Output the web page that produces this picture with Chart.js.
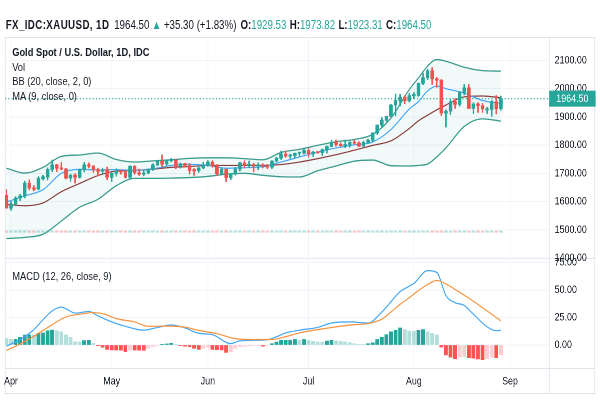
<!DOCTYPE html>
<html><head><meta charset="utf-8">
<script src="https://cdn.jsdelivr.net/npm/chart.js@4.4.1/dist/chart.umd.min.js"></script>
<style>
html,body{margin:0;padding:0;background:#fff;overflow:hidden;width:600px;height:400px}
#wrap{position:absolute;left:0;top:0;width:740px;height:400px;transform:scaleX(0.8108108);transform-origin:0 0;font-family:"Liberation Sans",Arial,sans-serif;color:#131722}
canvas{position:absolute;left:0}
#main{top:29px}
#macd{top:250px}
.ln{position:absolute;background:#e0e3eb}
.txt{position:absolute;white-space:pre;}
#hdr{left:7px;top:18px;font-size:12px;line-height:14px}
#hdr b{font-weight:bold}
#hdr .sym{font-size:12px;letter-spacing:0.5px}
.up{color:#26a69a}
.lg{left:15px;font-size:11.5px;line-height:14px}
</style></head>
<body>
<div id="wrap">
  <div class="ln" style="left:6px;top:37px;width:728px;height:1px"></div>
  <div class="ln" style="left:6px;top:393px;width:728px;height:1px"></div>
  <div class="ln" style="left:6px;top:37px;width:1px;height:357px"></div>
  <div class="ln" style="left:733px;top:37px;width:1px;height:357px"></div>
  <div class="ln" style="left:677px;top:37px;width:1px;height:357px"></div>
  <div class="ln" style="left:6px;top:258px;width:728px;height:1px"></div>
  <div class="ln" style="left:6px;top:368px;width:728px;height:1px"></div>
  <canvas id="main" width="740" height="237"></canvas>
  <canvas id="macd" width="740" height="150"></canvas>
  <div id="hdr" class="txt"><b class="sym">FX_IDC:XAUUSD, 1D</b><span style="margin-left:6px">1964.50</span><span class="up" style="margin-left:3px">▲</span><span style="margin-left:3px">+35.30 (+1.83%)</span><b style="margin-left:5px">O:</b><span class="up">1929.53</span><b style="margin-left:4px">H:</b><span class="up">1973.82</span><b style="margin-left:4px">L:</b><span class="up">1923.31</span><b style="margin-left:4px">C:</b><span class="up">1964.50</span></div>
  <div class="txt lg" style="top:45px;font-weight:bold">Gold Spot / U.S. Dollar, 1D, IDC</div>
  <div class="txt lg" style="top:60px">Vol</div>
  <div class="txt lg" style="top:74px">BB (20, close, 2, 0)</div>
  <div class="txt lg" style="top:89px">MA (9, close, 0)</div>
  <div class="txt lg" style="top:269px">MACD (12, 26, close, 9)</div>
</div>
<script>
// ---- data (daily candles, 2020-03-31 .. 2020-08-28, index = trading day) ----
const opens = [1622,1577,1591,1613,1620,1665,1648,1644,1681,1686,
1714,1730,1718,1715,1683,1694,1686,1713,1730,1726,
1713,1707,1713,1686,1700,1707,1705,1686,1725,1702,
1697,1701,1715,1730,1743,1733,1745,1747,1726,1734,
1728,1710,1709,1719,1730,1740,1726,1699,1714,1684,
1698,1715,1737,1728,1731,1726,1727,1726,1722,1743,
1754,1768,1761,1763,1771,1772,1781,1769,1775,1773,
1784,1795,1809,1803,1798,1802,1809,1807,1796,1810,
1817,1843,1871,1888,1902,1942,1958,1970,1957,1975,
1976,2019,2039,2063,2035,2030,1913,1920,1954,1944,
1986,2003,1930,1946,1940,1924,1926,1954,1929.53];
const highs = [1643,1599,1617,1626,1672,1677,1657,1689,1693,1720,
1747,1732,1738,1718,1697,1698,1715,1739,1737,1727,
1718,1718,1722,1703,1716,1711,1712,1727,1728,1715,
1711,1716,1734,1746,1765,1746,1753,1749,1737,1736,
1735,1717,1727,1739,1745,1745,1731,1719,1716,1699,
1721,1740,1745,1744,1736,1737,1734,1732,1745,1757,
1779,1779,1768,1772,1773,1786,1789,1778,1777,1786,
1797,1818,1818,1809,1818,1812,1818,1812,1814,1821,
1844,1872,1898,1903,1945,1981,1980,1975,1984,1986,
2020,2055,2069,2075,2040,2033,1925,1962,1965,1990,
2015,2015,1950,1950,1948,1934,1958,1976,1973.82];
const lows = [1576,1569,1585,1603,1613,1641,1638,1641,1676,1676,
1706,1706,1712,1680,1671,1665,1683,1705,1719,1703,
1691,1700,1677,1671,1690,1697,1683,1682,1696,1692,
1691,1698,1710,1727,1724,1728,1740,1716,1718,1722,
1697,1693,1703,1716,1725,1721,1693,1695,1670,1677,
1694,1708,1719,1722,1705,1713,1719,1716,1717,1740,
1749,1757,1753,1756,1760,1768,1757,1760,1770,1763,
1772,1794,1796,1795,1791,1793,1803,1795,1795,1806,
1812,1838,1863,1883,1900,1904,1939,1947,1952,1965,
1972,2014,2032,2015,2005,1904,1864,1908,1930,1938,
1978,1929,1912,1916,1916,1912,1902,1911,1923.31];
const closes = [1577,1591,1613,1620,1665,1648,1644,1683,1688,1714,
1730,1718,1715,1683,1694,1686,1713,1730,1726,1713,
1707,1713,1686,1700,1707,1705,1686,1725,1702,1697,
1701,1715,1730,1743,1733,1745,1747,1726,1734,1728,
1710,1709,1719,1730,1740,1726,1699,1714,1684,1698,
1715,1737,1728,1731,1726,1727,1726,1722,1743,1754,
1768,1761,1763,1771,1772,1781,1769,1775,1773,1784,
1795,1809,1803,1798,1802,1809,1807,1796,1810,1817,
1843,1871,1888,1902,1942,1958,1970,1957,1975,1976,
2019,2039,2063,2035,2030,1913,1920,1954,1944,1986,
2003,1930,1946,1940,1928,1926,1954,1929.2,1964.5];

// Bollinger Bands (20,2) and MA(9) at these bar indices
const bbIdx   = [0,4,8,12,16,20,24,28,32,36,40,44,48,52,56,60,64,68,72,76,80,84,88,90,92,94,96,100,104,108];
const bbUpper = [1718,1701,1721,1760,1765,1772,1749,1740,1744,1748,1753,1755,1755,1752,1748,1774,1785,1799,1812,1820,1838,1896,1997,2038,2080,2103,2097,2076,2064,2062];
const bbBasis = [1590,1585,1595,1635,1664,1692,1708,1710,1715,1721,1724,1728,1728,1728,1728,1731,1740,1752,1766,1782,1799,1815,1859,1886,1906,1925,1942,1971,1974,1968];
const bbLower = [1469,1473,1484,1531,1580,1608,1656,1682,1682,1683,1685,1689,1697,1700,1693,1688,1687,1709,1726,1743,1747,1727,1726,1728,1733,1758,1790,1866,1893,1885];
const maVal   = [1598,1620,1642,1700,1714,1712,1713,1710,1716,1728,1732,1728,1718,1720,1723,1740,1758,1775,1790,1801,1811,1855,1928,1954,1992,2009,2000,1984,1958,1948];

// MACD (12,26,9)
const macdIdx = [0,3,6,8,10,12,13,15,18,20,23,26,30,33,36,39,42,45,49,51,57,59,61,64,68,71,75,79,82,86,89,92,94,96,98,100,102,105,107,108];
const macdVal = [-1,5,14,23,31,34.5,33,29,30.5,26.5,21,17,13.5,16,18.2,15.5,10.7,9.4,1.3,3.8,4.8,7.5,11,13.5,16,20,21,20,30,48.5,56,67.6,66,45,38.5,36,28,16.5,13,13.5];
const signalIdx = [0,3,6,10,13,16,19,21,24,28,31,35,39,42,46,50,53,58,61,64,68,72,76,79,82,84,86,88,90,92,94,96,98,101,104,106,108];
const signalVal = [-5,1,8,18.5,25.5,28,29.5,28.5,24,21,17,17.2,16.2,13.3,10.3,5.8,5,5,7.6,11,14,16.5,18.5,19.5,23.5,30,37,43,49.5,55,58.7,55.5,50.5,42.5,34,28,22];
const hist = [6,5,5.2,7,9,9.2,9,10.6,11,13,
13.6,13,12,9,7,3,2.7,4,4.2,1.5,
-0.6,-2,-4,-4.5,-4.6,-4.7,-6,-4.5,-4.6,-4.7,
-4.8,-3,-1.5,-0.6,0.6,1,1.5,0.6,-0.6,-1,
-1.5,-3,-4,-3,-2,-4,-4.2,-4.5,-6.7,-6,
-3,-1.5,-1,-0.8,-0.5,-0.4,-1,-0.6,1.2,2.7,
4.2,4.3,4.4,5,4.2,5,4.2,3.3,2.7,2.6,
3.6,4.2,3.6,3.3,2.7,2.1,1.2,0.6,0.3,1.2,
2,5,7,9.4,12,13.3,15.5,14,12.7,12.4,
13.3,14,12,10.5,9,-1.8,-9,-11,-12.4,-11,
-10.5,-11.5,-12,-12.6,-13.3,-12.4,-11,-11.5,-8.8];

// axis ticks
const monthIdx = [1,23,44,66,89,110];
const monthLabels = ['Apr','May','Jun','Jul','Aug','Sep'];
const priceTicks = [1400,1500,1600,1700,1800,1900,2000,2100];
const macdTicks = [0,25,50,75];
const lastClose = 1964.50;
const volLo = 1491, volHi = 1496;

// ---- drawing ----
const xMin = -0.3, xMax = 118.5;
const UP = '#26a69a', DOWN = '#ef5350';
const FONT = '"Liberation Sans", Arial, sans-serif';
Chart.defaults.font.family = FONT;
Chart.defaults.font.size = 11;
Chart.defaults.color = '#131722';

const idx = closes.map((_, i) => i);
const candleCol = idx.map(i => closes[i] >= opens[i] ? UP : DOWN);
const volCol = idx.map(i => closes[i] >= opens[i] ? 'rgba(38,166,154,0.35)' : 'rgba(239,83,80,0.35)');
const histCol = hist.map((v, i) => {
  const prev = i > 0 ? hist[i - 1] : Infinity;
  const rising = v > prev;
  if (v >= 0) return rising ? '#26a69a' : '#b2dfdb';
  return rising ? '#ffcdd2' : '#ff5252';
});
const pts = (ix, vals) => ix.map((x, k) => ({x, y: vals[k]}));
const GRID = '#f0f3fa';
const noPad = s => { s.paddingTop = 0; s.paddingBottom = 0; s.paddingLeft = 0; s.paddingRight = 0; };

function xScale(showLabels) {
  return {
    type: 'linear', min: xMin, max: xMax, offset: false,
    afterBuildTicks: s => { s.ticks = monthIdx.map(v => ({value: v})); },
    afterFit: s => { s.height = showLabels ? 26 : 0; noPad(s); },
    grid: {color: GRID, drawTicks: false, offset: false},
    border: {display: false},
    ticks: {display: showLabels, autoSkip: false, maxRotation: 0, padding: 7,
            callback: (v, i) => monthLabels[i], font: {size: 11}, color: '#131722'}
  };
}
function yScale(min, max, tickVals) {
  return {
    type: 'linear', position: 'right', min, max,
    afterBuildTicks: s => { s.ticks = tickVals.map(v => ({value: v})); },
    afterFit: s => { s.width = 57; noPad(s); },
    grid: {color: GRID, drawTicks: false},
    border: {display: false},
    ticks: {padding: 7, callback: v => Number(v).toFixed(2), font: {size: 11}, color: '#131722'}
  };
}

const priceTag = {
  id: 'priceTag',
  afterDraw(chart) {
    const {ctx, chartArea, scales} = chart;
    const y = scales.y.getPixelForValue(lastClose);
    ctx.save();
    ctx.fillStyle = UP;
    ctx.fillRect(chartArea.right + 0.5, y - 8, 57, 16);
    ctx.fillStyle = '#ffffff';
    ctx.font = '11px ' + FONT;
    ctx.textBaseline = 'middle';
    ctx.fillText(lastClose.toFixed(2), chartArea.right + 9, y + 0.5);
    ctx.restore();
  }
};

const common = {
  responsive: false, animation: false, devicePixelRatio: 2, events: [],
  plugins: {legend: {display: false}, tooltip: {enabled: false}}
};

new Chart(document.getElementById('main'), {
  type: 'bar',
  data: {datasets: [
    {type: 'line', label: 'BB upper', data: pts(bbIdx, bbUpper), borderColor: '#3a9c8c', borderWidth: 1.3,
     pointRadius: 0, fill: '+1', backgroundColor: 'rgba(38,166,154,0.06)', cubicInterpolationMode: 'monotone', order: 4},
    {type: 'line', label: 'BB lower', data: pts(bbIdx, bbLower), borderColor: '#3a9c8c', borderWidth: 1.3,
     pointRadius: 0, fill: false, cubicInterpolationMode: 'monotone', order: 5},
    {type: 'line', label: 'BB basis', data: pts(bbIdx, bbBasis), borderColor: '#8a3b3b', borderWidth: 1.2,
     pointRadius: 0, fill: false, cubicInterpolationMode: 'monotone', order: 3},
    {type: 'line', label: 'MA 9', data: pts(bbIdx, maVal), borderColor: '#42a5f5', borderWidth: 1.2,
     pointRadius: 0, fill: false, cubicInterpolationMode: 'monotone', order: 2},
    {type: 'line', label: 'Last', data: [{x: xMin, y: lastClose}, {x: xMax, y: lastClose}], borderColor: UP,
     borderWidth: 1.2, borderDash: [1.5, 2.5], pointRadius: 0, fill: false, order: 6},
    {type: 'bar', label: 'Vol', data: idx.map(i => ({x: i, y: [volLo, volHi]})), backgroundColor: volCol,
     barThickness: 3.6, grouped: false, order: 7},
    {type: 'bar', label: 'Wick', data: idx.map(i => ({x: i, y: [lows[i], highs[i]]})), backgroundColor: candleCol,
     barThickness: 1.2, grouped: false, order: 1},
    {type: 'bar', label: 'Body', data: idx.map(i => ({x: i, y: [opens[i], closes[i]]})), backgroundColor: candleCol,
     barThickness: 3.7, minBarLength: 1.2, grouped: false, order: 0}
  ]},
  options: Object.assign({}, common, {
    layout: {padding: {left: 6.2, right: 6, top: 8, bottom: 8}},
    scales: {x: xScale(false), y: yScale(1400, 2183, priceTicks)}
  }),
  plugins: [priceTag]
});

new Chart(document.getElementById('macd'), {
  type: 'bar',
  data: {datasets: [
    {type: 'line', label: 'MACD', data: pts(macdIdx, macdVal), borderColor: '#3ea5f5', borderWidth: 1.2,
     pointRadius: 0, fill: false, cubicInterpolationMode: 'monotone', order: 1},
    {type: 'line', label: 'Signal', data: pts(signalIdx, signalVal), borderColor: '#f7923a', borderWidth: 1.2,
     pointRadius: 0, fill: false, cubicInterpolationMode: 'monotone', order: 0},
    {type: 'bar', label: 'Histogram', data: hist.map((v, i) => ({x: i, y: v})), backgroundColor: histCol,
     barThickness: 4, grouped: false, order: 2}
  ]},
  options: Object.assign({}, common, {
    layout: {padding: {left: 6.2, right: 6, top: 8, bottom: 6}},
    scales: {x: xScale(true), y: yScale(-20.9, 79.1, macdTicks)}
  })
});
</script>
</body></html>
